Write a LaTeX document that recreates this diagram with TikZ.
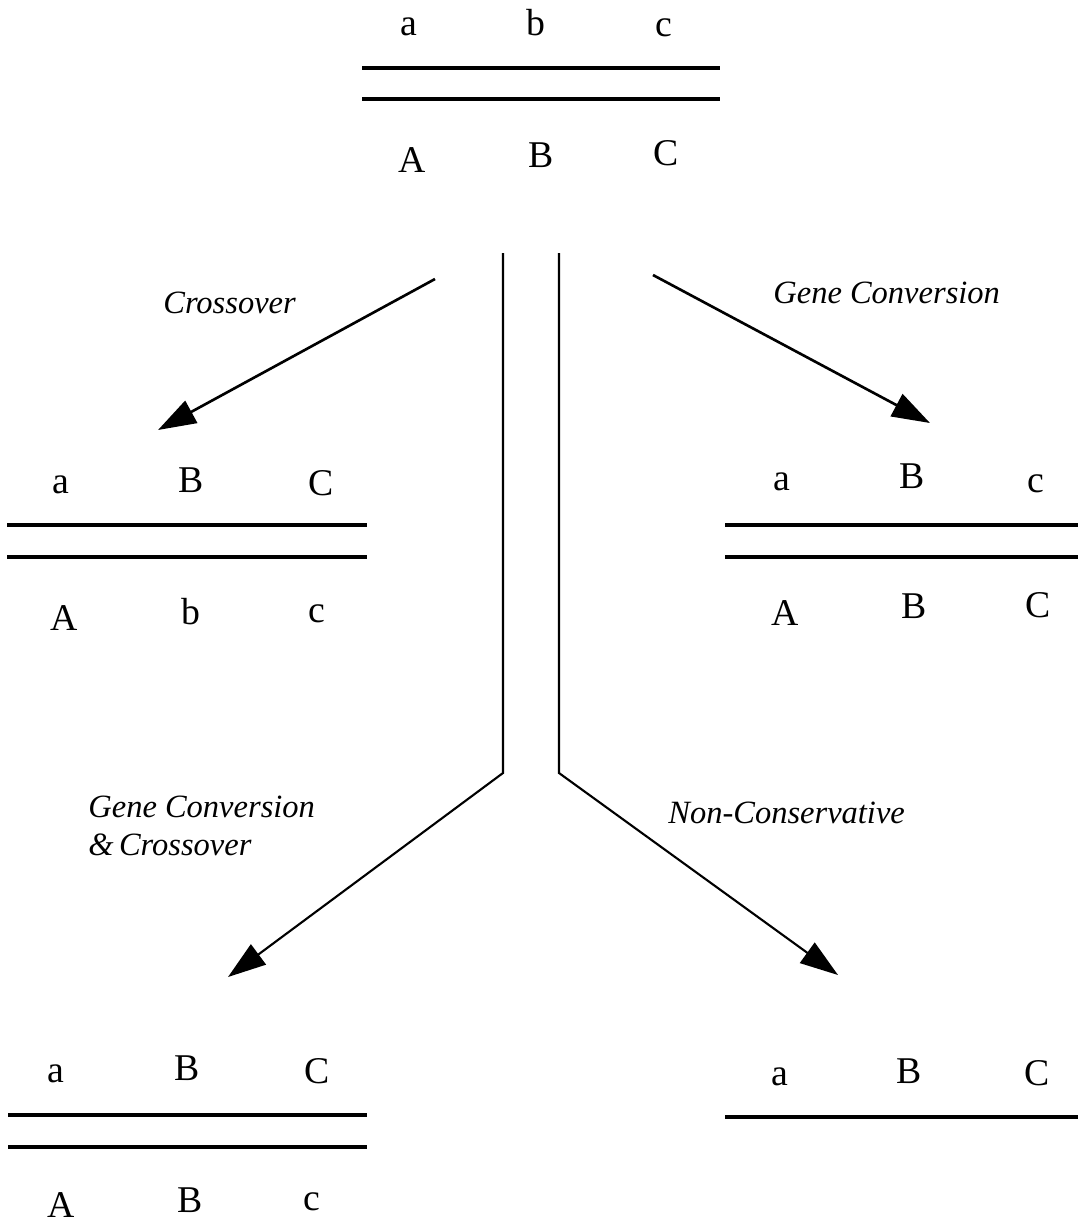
\documentclass[tikz,border=0pt]{standalone}
\usepackage{fontspec}
\setmainfont{Liberation Serif}
\usetikzlibrary{arrows.meta}
\begin{document}
\begin{tikzpicture}[x=0.02cm,y=-0.02cm]
        \tikzstyle{gene}= [anchor=base,inner sep=0pt,font=\fontsize{21.5}{26}\selectfont];
        \tikzstyle{event}= [anchor=base west,inner sep=0pt,align=left,font=\fontsize{18.5}{21.6}\selectfont\itshape];
        \tikzstyle{strand}= [line width=2.8pt];
        \tikzstyle{arr}= [line width=1.5pt,-{Triangle[length=0.76cm,width=0.5cm]}];
        \useasboundingbox (0,0) rectangle (1078,1232);

        % parent pair
        \foreach \n/\x/\y/\t in {pa/409/35/a,pb/536/35/b,pc/664/36/c,
                                 pA/412/172/A,pB/541/167/B,pC/666/165/C}{
          \node[gene](\n) at (\x,\y) {\t};
        }
        \draw[strand] (362,68) -- (720,68) (362,99) -- (720,99);

        % crossover product
        \foreach \n/\x/\y/\t in {xa/61/493/a,xB/191/492/B,xC/321/495/C,
                                 xA/64/630/A,xb/191/624/b,xc/317/622/c}{
          \node[gene](\n) at (\x,\y) {\t};
        }
        \draw[strand] (7,525) -- (367,525) (7,557) -- (367,557);

        % gene conversion product
        \foreach \n/\x/\y/\t in {ga/782/490/a,gB/912/488/B,gc/1036/492/c,
                                 gA/785/625/A,gB2/914/618/B,gC/1038/617/C}{
          \node[gene](\n) at (\x,\y) {\t};
        }
        \draw[strand] (725,525) -- (1078,525) (725,557) -- (1078,557);

        % gene conversion & crossover product
        \foreach \n/\x/\y/\t in {ca/56/1082/a,cB/187/1080/B,cC/317/1083/C,
                                 cA/61/1217/A,cB2/190/1212/B,cc/312/1210/c}{
          \node[gene](\n) at (\x,\y) {\t};
        }
        \draw[strand] (8,1115) -- (367,1115) (8,1147) -- (367,1147);

        % non-conservative product
        \foreach \n/\x/\y/\t in {na/780/1085/a,nB/909/1083/B,nC/1037/1085/C}{
          \node[gene](\n) at (\x,\y) {\t};
        }
        \draw[strand] (725,1117) -- (1078,1117);

        \node[event](lxo) at (163,313) {Crossover};
        \node[event](lgc) at (773,303) {Gene Conversion};
        \node[event](lgx) at (88,855) {Gene Conversion\\\&\,Crossover};
        \node[event](lnc) at (668,823) {Non-Conservative};

        \coordinate (xo1) at (435,279);
        \coordinate (xo2) at (158,430);
        \coordinate (gc1) at (653,275);
        \coordinate (gc2) at (930,423);
        \coordinate (gx1) at (503,253);
        \coordinate (gxk) at (503,773);
        \coordinate (gx2) at (228,977);
        \coordinate (nc1) at (559,253);
        \coordinate (nck) at (559,773);
        \coordinate (nc2) at (838,975);

        \draw[arr] (xo1) -- (xo2);
        \draw[arr] (gc1) -- (gc2);
        \draw[arr,line width=1.2pt] (gx1) -- (gxk) -- (gx2);
        \draw[arr,line width=1.2pt] (nc1) -- (nck) -- (nc2);
      \end{tikzpicture}
\end{document}
